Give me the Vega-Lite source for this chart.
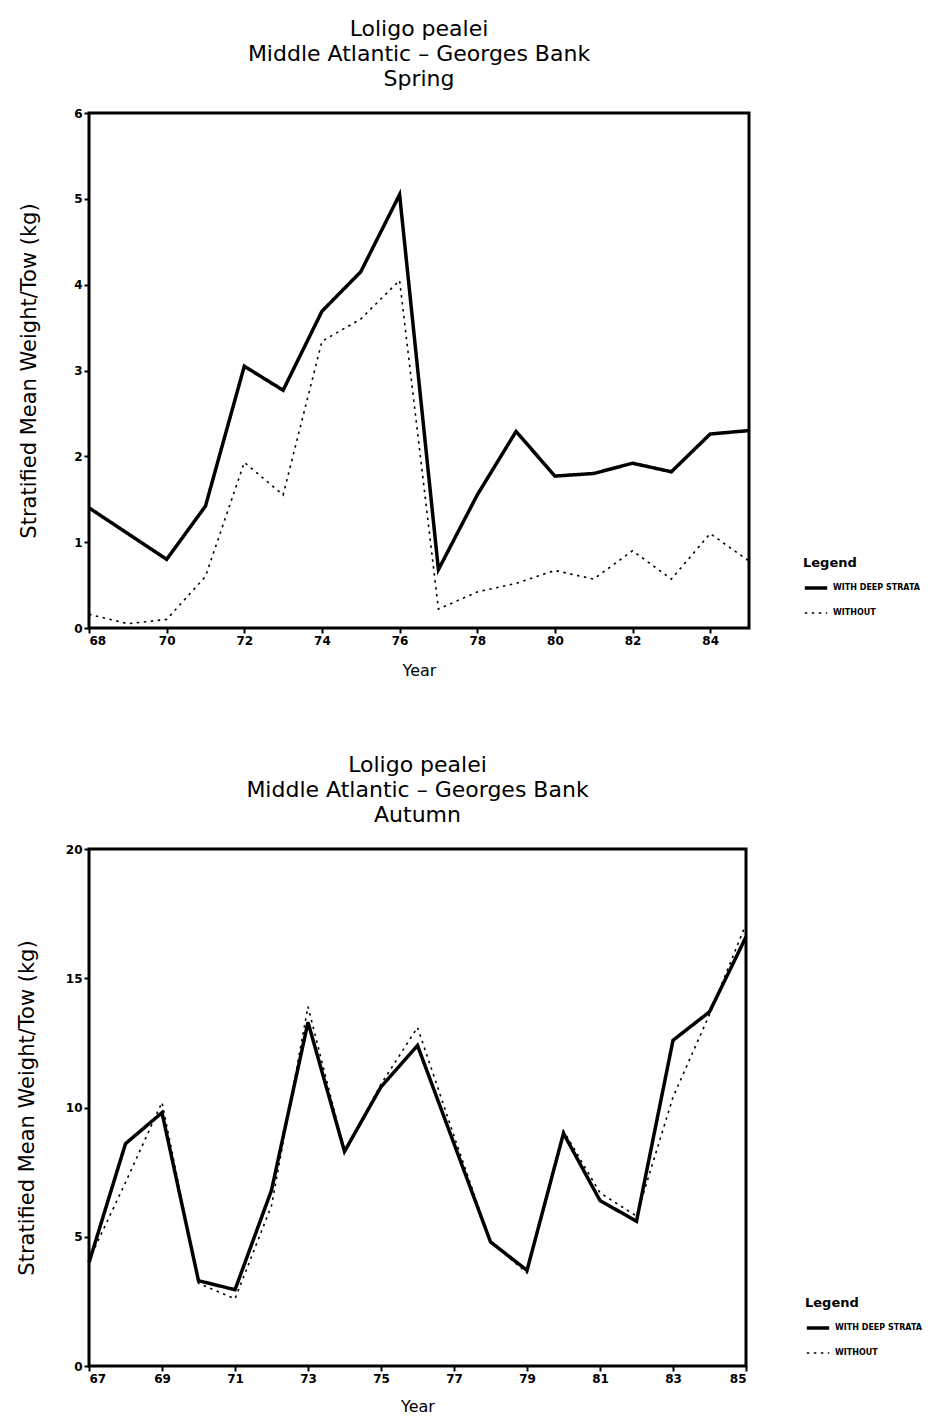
{
  "$schema": "https://vega.github.io/schema/vega-lite/v6.json",
  "background": "white",
  "padding": {"left": 14, "top": 16, "right": 5, "bottom": 0},
  "spacing": 72,
  "align": "none",
  "config": {
    "font": "DejaVu Sans",
    "view": {"stroke": "black", "strokeWidth": 3},
    "axis": {
      "grid": false,
      "domain": false,
      "tickColor": "black",
      "tickWidth": 2,
      "tickSize": 5,
      "labelFont": "DejaVu Sans",
      "labelFontWeight": "bold",
      "labelFontSize": 12,
      "labelColor": "black",
      "titleFont": "DejaVu Sans",
      "titleFontWeight": "normal",
      "titleColor": "black"
    },
    "title": {"font": "DejaVu Sans", "fontSize": 22, "fontWeight": "normal", "lineHeight": 25, "anchor": "middle", "color": "black", "offset": 16},
    "legend": {
      "titleFont": "DejaVu Sans",
      "titleFontSize": 13,
      "titleFontWeight": "bold",
      "titleColor": "black",
      "labelFont": "DejaVu Sans",
      "labelFontSize": 8,
      "labelFontWeight": "bold",
      "labelColor": "black",
      "symbolType": "stroke",
      "symbolStrokeColor": "black",
      "symbolSize": 500,
      "rowPadding": 6
    }
  },
  "datasets": {
    "spring": [
      {"year": 68, "kg": 1.4, "series": "WITH DEEP STRATA"},
      {"year": 69, "kg": 1.1, "series": "WITH DEEP STRATA"},
      {"year": 70, "kg": 0.8, "series": "WITH DEEP STRATA"},
      {"year": 71, "kg": 1.42, "series": "WITH DEEP STRATA"},
      {"year": 72, "kg": 3.05, "series": "WITH DEEP STRATA"},
      {"year": 73, "kg": 2.77, "series": "WITH DEEP STRATA"},
      {"year": 74, "kg": 3.69, "series": "WITH DEEP STRATA"},
      {"year": 75, "kg": 4.15, "series": "WITH DEEP STRATA"},
      {"year": 76, "kg": 5.05, "series": "WITH DEEP STRATA"},
      {"year": 77, "kg": 0.68, "series": "WITH DEEP STRATA"},
      {"year": 78, "kg": 1.55, "series": "WITH DEEP STRATA"},
      {"year": 79, "kg": 2.29, "series": "WITH DEEP STRATA"},
      {"year": 80, "kg": 1.77, "series": "WITH DEEP STRATA"},
      {"year": 81, "kg": 1.8, "series": "WITH DEEP STRATA"},
      {"year": 82, "kg": 1.92, "series": "WITH DEEP STRATA"},
      {"year": 83, "kg": 1.82, "series": "WITH DEEP STRATA"},
      {"year": 84, "kg": 2.26, "series": "WITH DEEP STRATA"},
      {"year": 85, "kg": 2.3, "series": "WITH DEEP STRATA"},
      {"year": 68, "kg": 0.16, "series": "WITHOUT"},
      {"year": 69, "kg": 0.05, "series": "WITHOUT"},
      {"year": 70, "kg": 0.1, "series": "WITHOUT"},
      {"year": 71, "kg": 0.6, "series": "WITHOUT"},
      {"year": 72, "kg": 1.93, "series": "WITHOUT"},
      {"year": 73, "kg": 1.55, "series": "WITHOUT"},
      {"year": 74, "kg": 3.34, "series": "WITHOUT"},
      {"year": 75, "kg": 3.6, "series": "WITHOUT"},
      {"year": 76, "kg": 4.05, "series": "WITHOUT"},
      {"year": 77, "kg": 0.22, "series": "WITHOUT"},
      {"year": 78, "kg": 0.42, "series": "WITHOUT"},
      {"year": 79, "kg": 0.52, "series": "WITHOUT"},
      {"year": 80, "kg": 0.67, "series": "WITHOUT"},
      {"year": 81, "kg": 0.57, "series": "WITHOUT"},
      {"year": 82, "kg": 0.9, "series": "WITHOUT"},
      {"year": 83, "kg": 0.57, "series": "WITHOUT"},
      {"year": 84, "kg": 1.1, "series": "WITHOUT"},
      {"year": 85, "kg": 0.78, "series": "WITHOUT"}
    ],
    "autumn": [
      {"year": 67, "kg": 4.0, "series": "WITH DEEP STRATA"},
      {"year": 68, "kg": 8.6, "series": "WITH DEEP STRATA"},
      {"year": 69, "kg": 9.8, "series": "WITH DEEP STRATA"},
      {"year": 70, "kg": 3.3, "series": "WITH DEEP STRATA"},
      {"year": 71, "kg": 2.95, "series": "WITH DEEP STRATA"},
      {"year": 72, "kg": 6.8, "series": "WITH DEEP STRATA"},
      {"year": 73, "kg": 13.3, "series": "WITH DEEP STRATA"},
      {"year": 74, "kg": 8.3, "series": "WITH DEEP STRATA"},
      {"year": 75, "kg": 10.8, "series": "WITH DEEP STRATA"},
      {"year": 76, "kg": 12.4, "series": "WITH DEEP STRATA"},
      {"year": 77, "kg": 8.6, "series": "WITH DEEP STRATA"},
      {"year": 78, "kg": 4.8, "series": "WITH DEEP STRATA"},
      {"year": 79, "kg": 3.7, "series": "WITH DEEP STRATA"},
      {"year": 80, "kg": 9.0, "series": "WITH DEEP STRATA"},
      {"year": 81, "kg": 6.4, "series": "WITH DEEP STRATA"},
      {"year": 82, "kg": 5.6, "series": "WITH DEEP STRATA"},
      {"year": 83, "kg": 12.6, "series": "WITH DEEP STRATA"},
      {"year": 84, "kg": 13.7, "series": "WITH DEEP STRATA"},
      {"year": 85, "kg": 16.6, "series": "WITH DEEP STRATA"},
      {"year": 67, "kg": 4.1, "series": "WITHOUT"},
      {"year": 68, "kg": 7.1, "series": "WITHOUT"},
      {"year": 69, "kg": 10.2, "series": "WITHOUT"},
      {"year": 70, "kg": 3.2, "series": "WITHOUT"},
      {"year": 71, "kg": 2.6, "series": "WITHOUT"},
      {"year": 72, "kg": 6.2, "series": "WITHOUT"},
      {"year": 73, "kg": 13.9, "series": "WITHOUT"},
      {"year": 74, "kg": 8.3, "series": "WITHOUT"},
      {"year": 75, "kg": 10.9, "series": "WITHOUT"},
      {"year": 76, "kg": 13.1, "series": "WITHOUT"},
      {"year": 77, "kg": 8.9, "series": "WITHOUT"},
      {"year": 78, "kg": 4.8, "series": "WITHOUT"},
      {"year": 79, "kg": 3.6, "series": "WITHOUT"},
      {"year": 80, "kg": 9.1, "series": "WITHOUT"},
      {"year": 81, "kg": 6.7, "series": "WITHOUT"},
      {"year": 82, "kg": 5.8, "series": "WITHOUT"},
      {"year": 83, "kg": 10.4, "series": "WITHOUT"},
      {"year": 84, "kg": 13.6, "series": "WITHOUT"},
      {"year": 85, "kg": 17.1, "series": "WITHOUT"}
    ]
  },
  "resolve": {"scale": {"strokeDash": "independent", "strokeWidth": "independent"}, "legend": {"strokeDash": "independent", "strokeWidth": "independent"}},
  "vconcat": [
    {
      "title": {"text": ["Loligo pealei", "Middle Atlantic – Georges Bank", "Spring"]},
      "width": 660,
      "height": 515,
      "data": {"name": "spring"},
      "mark": {"type": "line", "color": "black"},
      "encoding": {
        "x": {"field": "year", "type": "quantitative", "scale": {"domain": [68, 85], "nice": false, "zero": false},
              "axis": {"values": [68, 70, 72, 74, 76, 78, 80, 82, 84], "title": "Year", "titleFontSize": 16, "titlePadding": 16}},
        "y": {"field": "kg", "type": "quantitative", "scale": {"domain": [0, 6], "nice": false},
              "axis": {"values": [0, 1, 2, 3, 4, 5, 6], "title": "Stratified Mean Weight/Tow (kg)", "titleFontSize": 21, "titlePadding": 34}},
        "strokeDash": {"field": "series", "type": "nominal",
              "scale": {"domain": ["WITH DEEP STRATA", "WITHOUT"], "range": [[1, 0], [2.5, 4.5]]},
              "legend": {"title": "Legend", "orient": "none", "legendX": 714, "legendY": 444}},
        "strokeWidth": {"field": "series", "type": "nominal",
              "scale": {"domain": ["WITH DEEP STRATA", "WITHOUT"], "range": [3.5, 1.6]},
              "legend": {"title": "Legend", "orient": "none", "legendX": 714, "legendY": 444}}
      }
    },
    {
      "title": {"text": ["Loligo pealei", "Middle Atlantic – Georges Bank", "Autumn"]},
      "width": 657,
      "height": 517,
      "data": {"name": "autumn"},
      "mark": {"type": "line", "color": "black"},
      "encoding": {
        "x": {"field": "year", "type": "quantitative", "scale": {"domain": [67, 85], "nice": false, "zero": false},
              "axis": {"values": [67, 69, 71, 73, 75, 77, 79, 81, 83, 85], "title": "Year", "titleFontSize": 16, "titlePadding": 14}},
        "y": {"field": "kg", "type": "quantitative", "scale": {"domain": [0, 20], "nice": false},
              "axis": {"values": [0, 5, 10, 15, 20], "title": "Stratified Mean Weight/Tow (kg)", "titleFontSize": 21, "titlePadding": 28}},
        "strokeDash": {"field": "series", "type": "nominal",
              "scale": {"domain": ["WITH DEEP STRATA", "WITHOUT"], "range": [[1, 0], [2.5, 4.5]]},
              "legend": {"title": "Legend", "orient": "none", "legendX": 716, "legendY": 448}},
        "strokeWidth": {"field": "series", "type": "nominal",
              "scale": {"domain": ["WITH DEEP STRATA", "WITHOUT"], "range": [3.5, 1.6]},
              "legend": {"title": "Legend", "orient": "none", "legendX": 716, "legendY": 448}}
      }
    }
  ]
}
